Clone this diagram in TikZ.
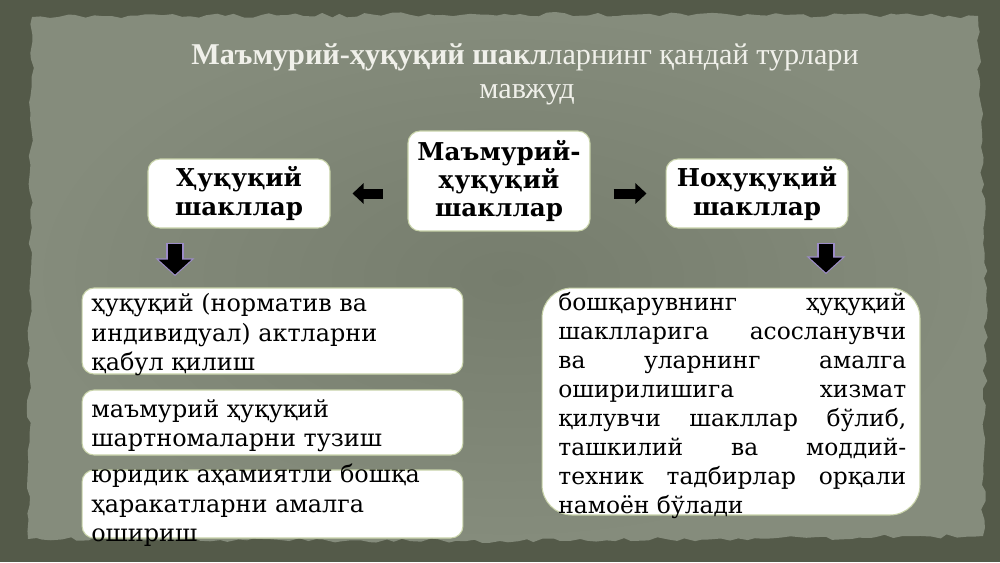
\documentclass[tikz,border=0pt]{standalone}
\usepackage{fontspec}
\setmainfont{DejaVu Serif}
\newfontfamily\titlefont{Liberation Serif}
\usepackage{tikz}
\usetikzlibrary{arrows.meta,positioning,decorations.pathmorphing}
\hbadness=10000
\hfuzz=6pt

\begin{document}
\begin{tikzpicture}[x=0.02cm,y=-0.02cm,
  box/.style={draw=boxline,line width=0.6pt,fill=white,rounded corners=0.24cm,inner sep=0pt},
  headbox/.style={box,minimum width=3.64cm,align=center,text=black,
    font=\bfseries\fontsize{14}{16}\selectfont},
  itemtext/.style={anchor=north west,inner sep=0pt,align=left,text=black,
    font=\fontsize{13.6}{16.8}\selectfont},
  titletext/.style={text=titlecol,inner sep=0pt,font=\titlefont\fontsize{17.2}{20}\selectfont},
  sidearrow/.style={line width=5.7pt,-{Triangle[width=11.4pt,length=6.3pt]}},
  downarrow/.style={line width=8.5pt,-{Triangle[width=18.2pt,length=8.5pt]}},
  downglow/.style={draw=glowcol,line width=10.5pt,-{Triangle[width=21.5pt,length=10pt]}}]
\definecolor{outerbg}{HTML}{545A49}
\definecolor{panelmid}{HTML}{767D6D}
\definecolor{panelrim}{HTML}{858C7C}
\definecolor{titlecol}{HTML}{F0F0EA}
\definecolor{boxline}{HTML}{C7D2A8}
\definecolor{glowcol}{HTML}{9C8CC8}
\pgfmathsetseed{7}
\useasboundingbox (0,0) rectangle (1000,562);

% background sheet
\fill[outerbg] (0,0) rectangle (1000,562);
\shade[inner color=panelmid,outer color=panelrim,decorate,
  decoration={random steps,segment length=5pt,amplitude=1.3pt}]
  (32,17) -- (520,14) -- (978,16) -- (986,300) -- (983,536) -- (500,541) -- (28,539) -- (30,280) -- cycle;

% title
\node[titletext] (title1) at (525,57) {\textbf{Маъмурий-ҳуқуқий шакл}ларнинг қандай турлари};
\node[titletext] (title2) at (527,95) {мавжуд};

% top row
\node[headbox,minimum height=2.0cm] (main) at (499,181) {Маъмурий-\\ҳуқуқий\\шакллар};
\node[headbox,minimum height=1.38cm] (legal) at (239,193.5) {Ҳуқуқий\\шакллар};
\node[headbox,minimum height=1.38cm] (nonlegal) at (757,193.5) {Ноҳуқуқий\\шакллар};

\draw[sidearrow,shorten <=0.5cm,shorten >=0.44cm] (main.west |- legal.east) -- (legal.east);
\draw[sidearrow,shorten <=0.46cm,shorten >=0.38cm] (main.east |- nonlegal.west) -- (nonlegal.west);

% legal forms
\node[box,minimum width=7.62cm,minimum height=1.72cm] (act) at (272.5,331) {};
\node[box,minimum width=7.62cm,minimum height=1.30cm] (contract) at (272.5,422.5) {};
\node[box,minimum width=7.62cm,minimum height=1.36cm] (other) at (272.5,504) {};
\node[itemtext] (acttext) at (91,293) {ҳуқуқий (норматив ва\\индивидуал) актларни\\қабул қилиш};
\node[itemtext] (contracttext) at (91,399) {маъмурий ҳуқуқий\\шартномаларни тузиш};
\node[itemtext] (othertext) at (91,464) {юридик аҳамиятли бошқа\\ҳаракатларни амалга\\ошириш};

% non-legal forms
\node[box,rounded corners=0.6cm,minimum width=7.56cm,minimum height=4.54cm] (means) at (731,401.5) {};
\node[itemtext,align=justify,text width=6.96cm,font=\fontsize{13.3}{16.5}\selectfont] (meanstext) at (558,292)
  {бошқарувнинг ҳуқуқий\linebreak шаклларига асосланувчи\linebreak ва уларнинг амалга\linebreak
   оширилишига хизмат\linebreak қилувчи шакллар бўлиб,\linebreak ташкилий ва моддий-\linebreak
   техник тадбирлар орқали\linebreak намоён бўлади};

\draw[downglow,shorten <=0.28cm,shorten >=0.23cm] ([xshift=-1.28cm]legal.south) -- ([xshift=-1.28cm]legal.south |- act.north);
\draw[downarrow,shorten <=0.3cm,shorten >=0.26cm] ([xshift=-1.28cm]legal.south) -- ([xshift=-1.28cm]legal.south |- act.north);
\draw[downglow,shorten <=0.28cm,shorten >=0.27cm] ([xshift=1.38cm]nonlegal.south) -- ([xshift=1.38cm]nonlegal.south |- means.north);
\draw[downarrow,shorten <=0.3cm,shorten >=0.3cm] ([xshift=1.38cm]nonlegal.south) -- ([xshift=1.38cm]nonlegal.south |- means.north);
\end{tikzpicture}
\end{document}
